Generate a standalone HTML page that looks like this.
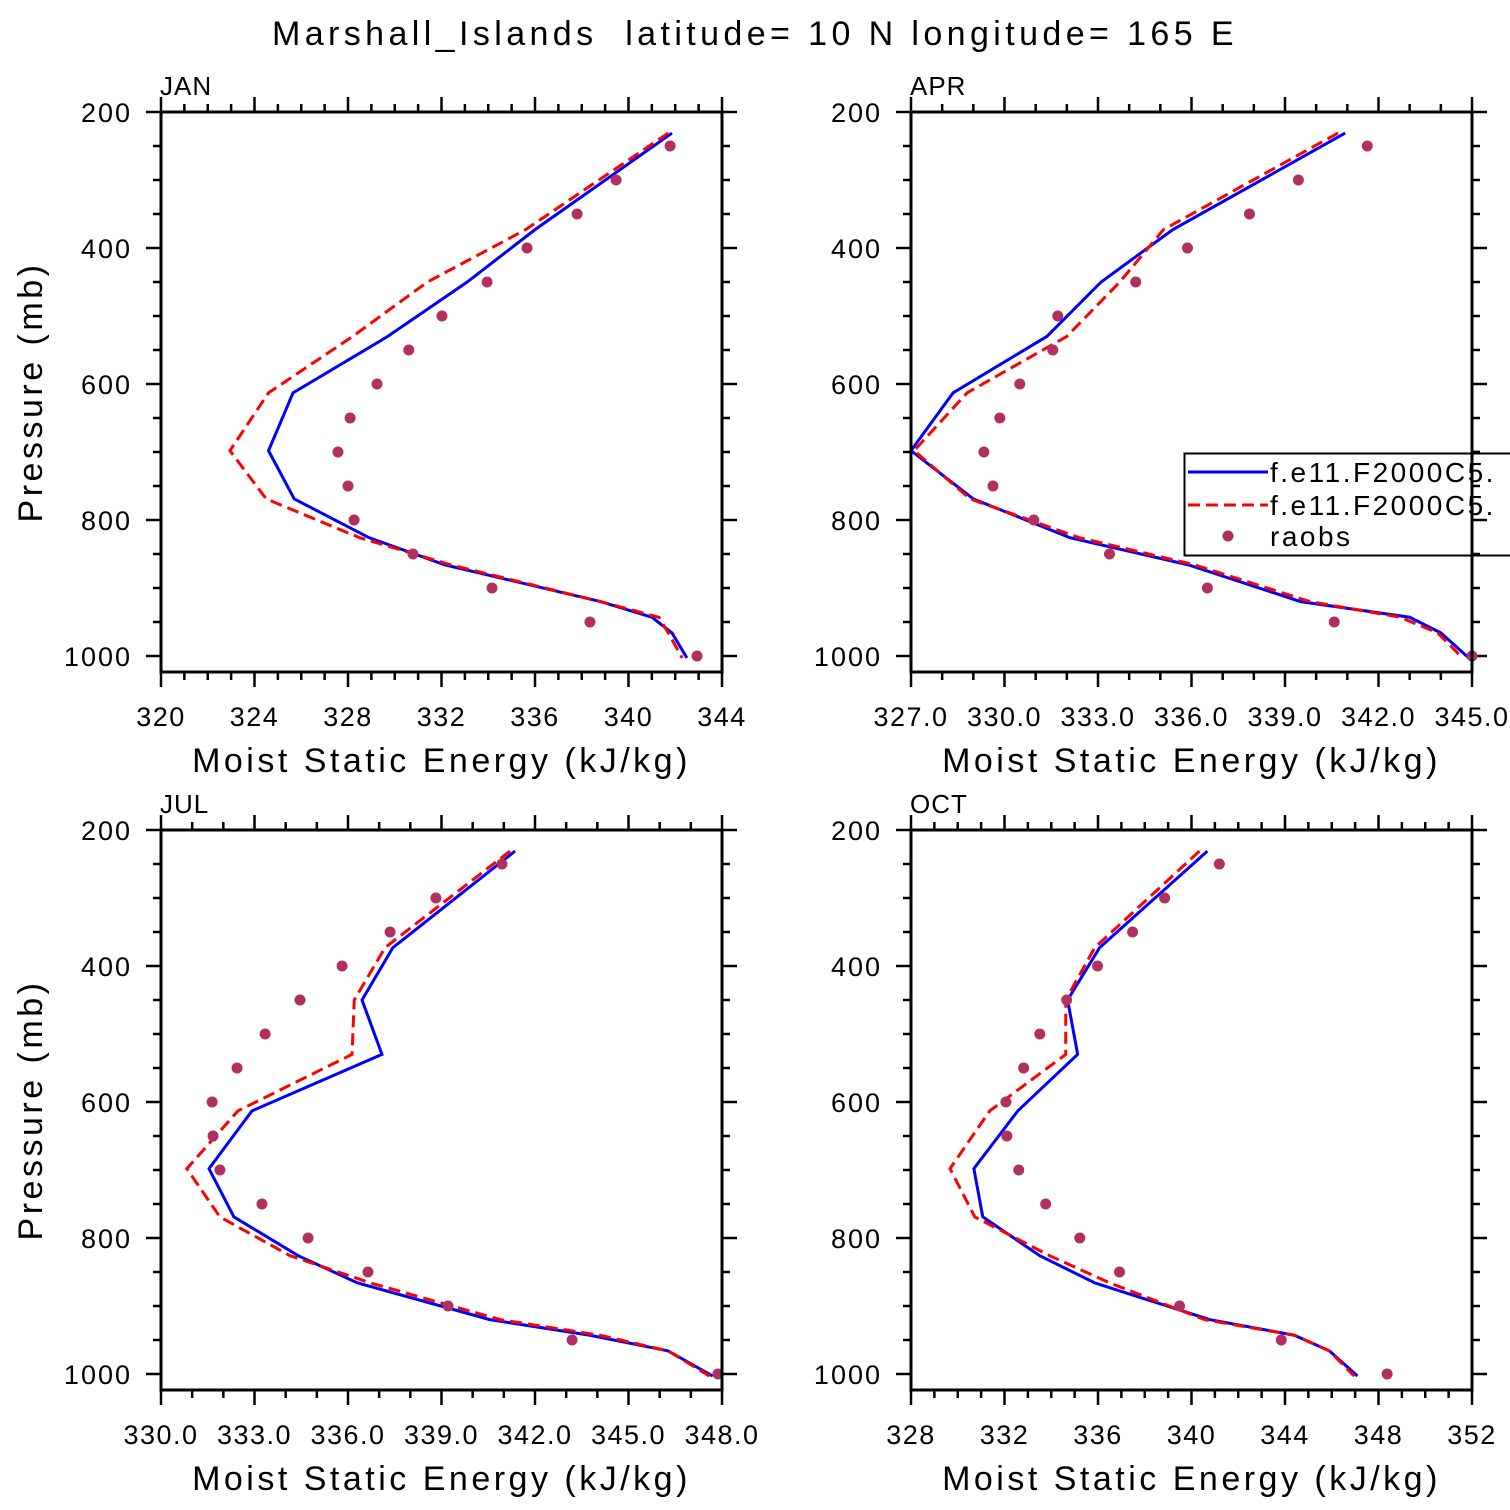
<!DOCTYPE html>
<html><head><meta charset="utf-8"><style>
html,body{margin:0;padding:0;background:#fff;overflow:hidden}
svg{display:block}
text{font-family:"Liberation Sans",sans-serif;fill:#000}
</style></head><body>
<svg id="chart" width="1510" height="1510" viewBox="0 0 1510 1510" xmlns="http://www.w3.org/2000/svg">
<text x="755" y="45" font-size="34" text-anchor="middle" letter-spacing="4.4" xml:space="preserve" style="white-space:pre">Marshall_Islands  latitude= 10 N longitude= 165 E</text>
</svg>
<script>
const levels = [231, 373, 450, 530, 613, 698, 769, 826, 866, 920, 943, 966, 1003];
const obsLevels = [250,300,350,400,450,500,550,600,650,700,750,800,850,900,950,1000];
const panelNames = ['JAN','APR','JUL','OCT'];
const janBlue = [341.86,336.0,333.1,329.7,325.65,324.6,325.7,328.9,332.15,338.8,341.0,341.86,342.5];
const janRed  = [341.7,335.6,331.4,328.2,324.6,322.95,324.5,328.5,332.4,338.8,341.3,341.7,342.3];
const janObs  = [341.78,339.47,337.8,335.66,333.95,332.02,330.6,329.24,328.09,327.57,328.0,328.26,330.78,334.16,338.35,342.93];
const aprBlue = [340.93,335.4,333.1,331.36,328.35,327.0,329.0,332.1,335.9,339.5,343.0,344.0,344.9];
const aprRed  = [340.7,335.1,333.7,332.0,328.8,327.1,328.9,332.4,336.1,339.8,342.7,343.9,344.7];
const aprObs  = [341.64,339.43,337.86,335.87,334.21,331.71,331.55,330.49,329.85,329.34,329.63,330.94,333.37,336.51,340.58,345.0];
const julBlue = [341.36,337.44,336.45,337.09,332.92,331.54,332.34,334.4,336.3,340.55,343.76,346.27,347.7];
const julRed  = [341.2,337.19,336.2,336.13,332.47,330.83,331.89,334.14,336.71,340.88,344.08,346.27,347.6];
const julObs  = [340.94,338.82,337.35,335.81,334.46,333.34,332.44,331.64,331.67,331.89,333.24,334.72,336.64,339.21,343.19,347.87];
const octBlue = [340.68,336.07,334.7,335.13,332.57,330.69,331.07,333.51,335.86,340.77,344.4,345.9,347.1];
const octRed  = [340.34,335.86,334.62,334.62,331.37,329.67,330.73,333.93,336.5,340.55,344.4,345.9,346.96];
const octObs  = [341.19,338.85,337.48,335.98,334.66,333.51,332.82,332.06,332.1,332.61,333.76,335.22,336.92,339.49,343.84,348.37];
const janTicks = ['320','324','328','332','336','340','344'];
const aprTicks = ['327.0','330.0','333.0','336.0','339.0','342.0','345.0'];
const julTicks = ['330.0','333.0','336.0','339.0','342.0','345.0','348.0'];
const octTicks = ['328','332','336','340','344','348','352'];
const yTickLabels = ['200','400','600','800','1000'];

const NS='http://www.w3.org/2000/svg';
const svg=document.getElementById('chart');
function mk(tag,attrs,parent){const e=document.createElementNS(NS,tag);for(const k in attrs)e.setAttribute(k,attrs[k]);(parent||svg).appendChild(e);return e;}

const panels=[
 {name:'jan',x0:161,y0:112,ticks:janTicks,minorStep:1,blue:janBlue,red:janRed,obs:janObs},
 {name:'apr',x0:911,y0:112,ticks:aprTicks,minorStep:1,blue:aprBlue,red:aprRed,obs:aprObs},
 {name:'jul',x0:161,y0:830,ticks:julTicks,minorStep:1,blue:julBlue,red:julRed,obs:julObs},
 {name:'oct',x0:911,y0:830,ticks:octTicks,minorStep:1,blue:octBlue,red:octRed,obs:octObs}
];
const W=561, PXMB=0.68, H=560;

panels.forEach((p,i)=>{
 const g=mk('g',{});
 
 
 const xmin=parseFloat(p.ticks[0]), xmax=parseFloat(p.ticks[p.ticks.length-1]);
 const xs=v=>p.x0+(v-xmin)/(xmax-xmin)*W;
 const ys=pr=>p.y0+(pr-200)*PXMB;
 const x1=p.x0+W, y1=p.y0+H;
 const cid='clip'+i;
 const cp=mk('clipPath',{id:cid},g);
 mk('rect',{x:p.x0,y:p.y0,width:W,height:H},cp);
 const lab=mk('text',{x:p.x0-1,y:p.y0-17,'font-size':26,'letter-spacing':1},g);
 lab.textContent=panelNames[i];
 
 
 for(let pr=200;pr<=1000;pr+=50){
  const y=ys(pr), major=pr%200===0, L=major?15:8;
  mk('line',{x1:p.x0-L,y1:y,x2:p.x0,y2:y,stroke:'#000','stroke-width':2.5},g);
  mk('line',{x1:x1,y1:y,x2:x1+L,y2:y,stroke:'#000','stroke-width':2.5},g);
 }
 yTickLabels.forEach(t=>{
  const tt=mk('text',{x:p.x0-29,y:ys(+t)+10,'font-size':27,'text-anchor':'end','letter-spacing':2},g);
  tt.textContent=t;
  
  
 });
 const majStep=(xmax-xmin)/6;
 for(let v=xmin;v<=xmax+1e-6;v+=p.minorStep){
  const k=(v-xmin)/majStep, major=Math.abs(k-Math.round(k))<1e-6, L=major?15:8, x=xs(v);
  mk('line',{x1:x,y1:p.y0-L,x2:x,y2:p.y0,stroke:'#000','stroke-width':2.5},g);
  mk('line',{x1:x,y1:y1,x2:x,y2:y1+L,stroke:'#000','stroke-width':2.5},g);
 }
 p.ticks.forEach(t=>{
  const tt=mk('text',{x:xs(parseFloat(t)),y:y1+54,'font-size':27,'text-anchor':'middle','letter-spacing':1.5},g);
  tt.textContent=t;
  
  
 });
 const xt=mk('text',{x:p.x0+W/2,y:y1+100,'font-size':34,'text-anchor':'middle','letter-spacing':3.5},g);
 xt.textContent='Moist Static Energy (kJ/kg)';
 
 
 if(i%2===0){
  const cy=p.y0+280;
  const yt=mk('text',{x:42,y:cy,'font-size':34,'text-anchor':'middle','letter-spacing':3.5,transform:'rotate(-90 42 '+cy+')'},g);
  yt.textContent='Pressure (mb)';
  
  
 }
 const dg=mk('g',{'clip-path':'url(#'+cid+')'},g);
 const bl=mk('polyline',{points:p.blue.map((v,j)=>xs(v)+','+ys(levels[j])).join(' '),fill:'none',stroke:'#0000ff','stroke-width':3},dg);
 
 
 const rl=mk('polyline',{points:p.red.map((v,j)=>xs(v)+','+ys(levels[j])).join(' '),fill:'none',stroke:'#ff0000','stroke-width':3,'stroke-dasharray':'12,6'},dg);
 
 
 p.obs.forEach((v,j)=>{
  const c=mk('circle',{cx:xs(v),cy:ys(obsLevels[j]),r:5.5,fill:'#b03060'},g);
  
  
 });
 const fr=mk('rect',{x:p.x0,y:p.y0,width:W,height:H,fill:'none',stroke:'#000','stroke-width':3},g);
 
 
});

const lg=mk('g',{});


mk('rect',{x:1184.5,y:453.5,width:340,height:102,fill:'#fff',stroke:'#000','stroke-width':2},lg);
mk('line',{x1:1188,y1:472,x2:1268,y2:472,stroke:'#0000ff','stroke-width':3},lg);
mk('line',{x1:1188,y1:505,x2:1268,y2:505,stroke:'#ff0000','stroke-width':3,'stroke-dasharray':'12,6'},lg);
mk('circle',{cx:1228,cy:536,r:5.5,fill:'#b03060'},lg);
[['f.e11.F2000C5.',482],['f.e11.F2000C5.',515],['raobs',546]].forEach((d,k)=>{
 const t=mk('text',{x:1270,y:d[1],'font-size':28,'letter-spacing':2.5},lg);
 t.textContent=d[0];
 
 
});
for(let pr=200;pr<=1000;pr+=50){
 const y=112+(pr-200)*PXMB, L=pr%200===0?15:8;
 if(y>450&&y<560) mk('line',{x1:1472,y1:y,x2:1472+L,y2:y,stroke:'#000','stroke-width':2.5});
}
mk('line',{x1:1472,y1:453,x2:1472,y2:557,stroke:'#000','stroke-width':3});
</script>
</body></html>
